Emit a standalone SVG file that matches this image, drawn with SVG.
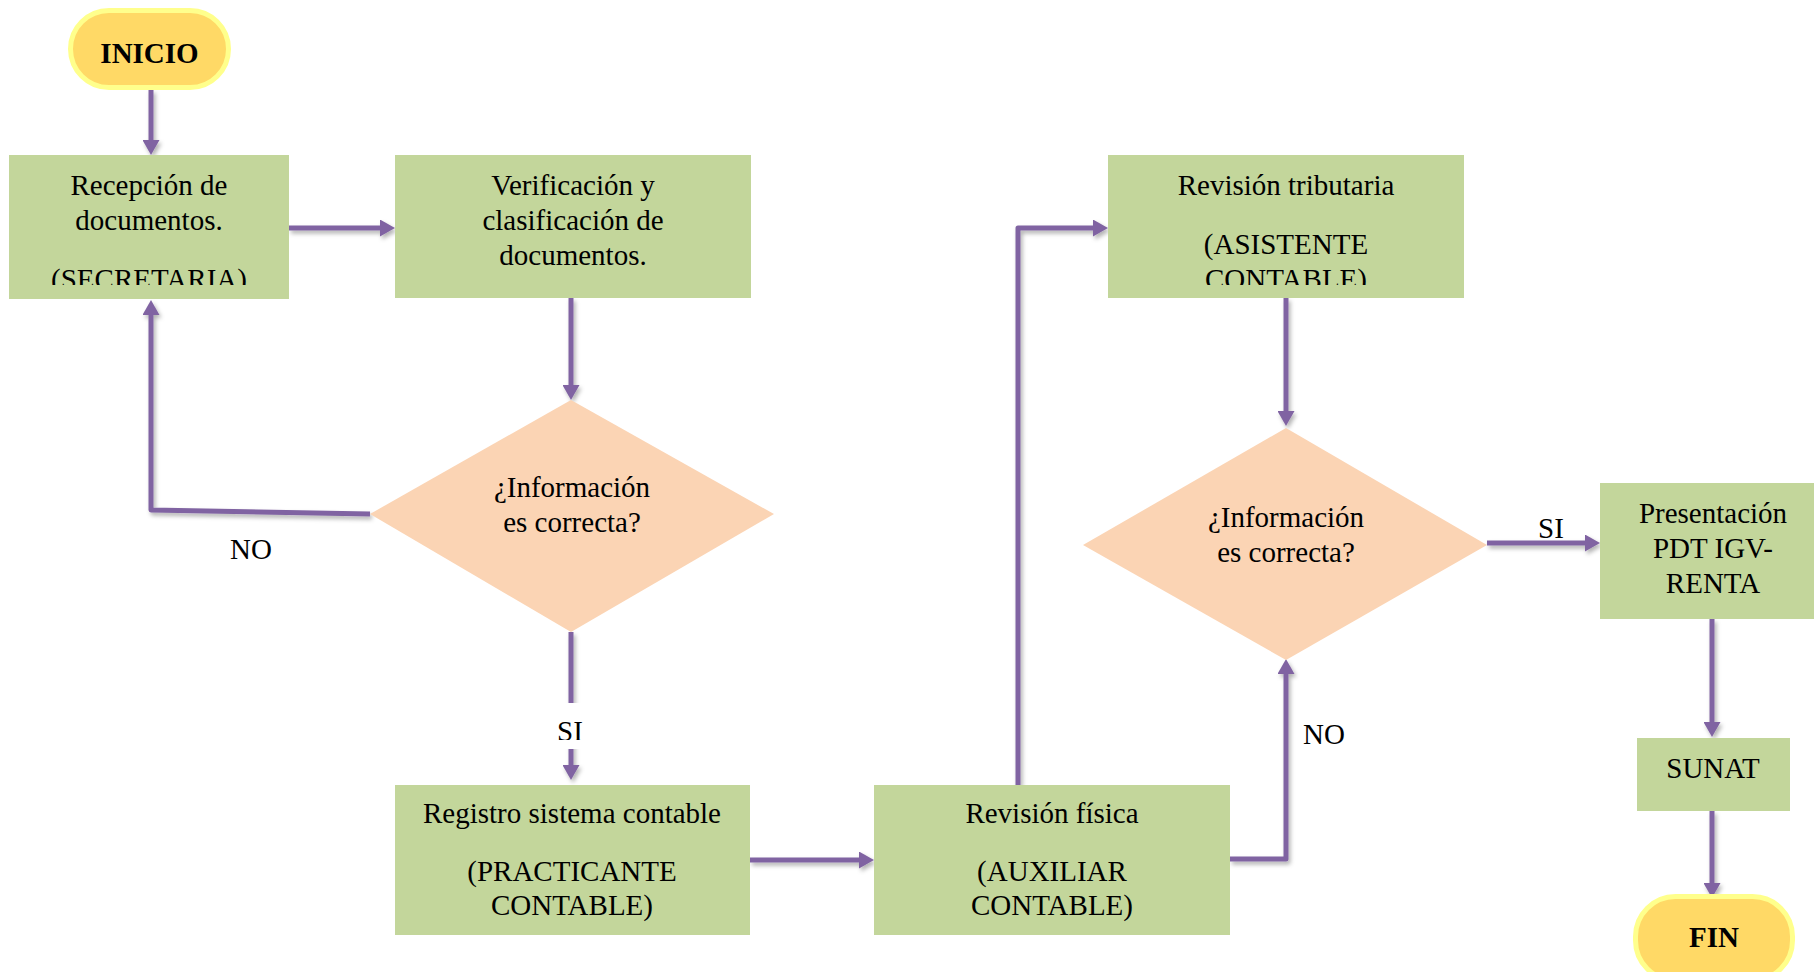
<svg xmlns="http://www.w3.org/2000/svg" width="1814" height="972" viewBox="0 0 1814 972">
<style>
.box{fill:#C3D69B}
.dia{fill:#FBD4B4}
.pill{fill:#FFD966;stroke:#FFFF8C;stroke-width:5}
.t{font-family:"Liberation Serif","Times New Roman",serif;font-size:29px;fill:#000;text-anchor:middle}
.b{font-weight:bold}
.c{fill:none;stroke:#8064A2;stroke-width:5;stroke-linejoin:round;marker-end:url(#ah)}
</style>
<defs>
<marker id="ah" markerUnits="userSpaceOnUse" markerWidth="15" markerHeight="17" refX="5" refY="8.5" orient="auto">
<path d="M0,0 L15,8.5 L0,17 z" fill="#8064A2"/>
</marker>
<filter id="sh" x="-20%" y="-20%" width="140%" height="140%">
<feDropShadow dx="2" dy="3" stdDeviation="2" flood-color="#000" flood-opacity="0.3"/>
</filter>
<clipPath id="clipRec"><rect x="9" y="155" width="280" height="130"/></clipPath>
<clipPath id="clipTri"><rect x="1108" y="155" width="356" height="130"/></clipPath>
<clipPath id="clipSi"><rect x="540" y="703" width="60" height="37"/></clipPath>
</defs>

<g id="connectors" filter="url(#sh)">
<path class="c" d="M151,90 V145"/>
<path class="c" d="M289,228 H385"/>
<path class="c" d="M571,298 V390"/>
<path class="c" d="M370,514 L151,510 V310"/>
<path class="c" d="M571,632 V770"/>
<path class="c" d="M750,860 H864"/>
<path class="c" d="M1018,785 V228 H1098"/>
<path class="c" d="M1286,298 V416"/>
<path class="c" d="M1230,859 H1286 V669"/>
<path class="c" d="M1487,543 H1590"/>
<path class="c" d="M1712,619 V727"/>
<path class="c" d="M1712,811 V888"/>
</g>

<g id="labels">
<rect x="545" y="703" width="52" height="46" fill="#fff"/>
<text class="t" x="570" y="741" clip-path="url(#clipSi)">SI</text>
<text class="t" x="251" y="559">NO</text>
<text class="t" x="1324" y="744">NO</text>
<text class="t" x="1551" y="538">SI</text>
</g>

<g id="inicio">
<rect class="pill" x="70.5" y="10.5" width="158" height="77" rx="38.5"/>
<text class="t b" x="149.5" y="63">INICIO</text>
</g>

<g id="recepcion">
<rect class="box" x="9" y="155" width="280" height="144"/>
<g clip-path="url(#clipRec)">
<text class="t" x="149" y="195">Recepción de</text>
<text class="t" x="149" y="230">documentos.</text>
<text class="t" x="149" y="289">(SECRETARIA)</text>
</g>
</g>

<g id="verificacion">
<rect class="box" x="395" y="155" width="356" height="143"/>
<text class="t" x="573" y="195">Verificación y</text>
<text class="t" x="573" y="230">clasificación de</text>
<text class="t" x="573" y="265">documentos.</text>
</g>

<g id="decision1">
<polygon class="dia" points="571,400 774,514 571,632 370,514"/>
<text class="t" x="572" y="497">¿Información</text>
<text class="t" x="572" y="532">es correcta?</text>
</g>

<g id="registro">
<rect class="box" x="395" y="785" width="355" height="150"/>
<text class="t" x="572" y="823">Registro sistema contable</text>
<text class="t" x="572" y="881">(PRACTICANTE</text>
<text class="t" x="572" y="915">CONTABLE)</text>
</g>

<g id="revision-fisica">
<rect class="box" x="874" y="785" width="356" height="150"/>
<text class="t" x="1052" y="823">Revisión física</text>
<text class="t" x="1052" y="881">(AUXILIAR</text>
<text class="t" x="1052" y="915">CONTABLE)</text>
</g>

<g id="revision-tributaria">
<rect class="box" x="1108" y="155" width="356" height="143"/>
<g clip-path="url(#clipTri)">
<text class="t" x="1286" y="195">Revisión tributaria</text>
<text class="t" x="1286" y="254">(ASISTENTE</text>
<text class="t" x="1286" y="289">CONTABLE)</text>
</g>
</g>

<g id="decision2">
<polygon class="dia" points="1286,428 1487,545 1286,660 1083,545"/>
<text class="t" x="1286" y="527">¿Información</text>
<text class="t" x="1286" y="562">es correcta?</text>
</g>

<g id="presentacion">
<rect class="box" x="1600" y="483" width="214" height="136"/>
<text class="t" x="1713" y="523">Presentación</text>
<text class="t" x="1713" y="558">PDT IGV-</text>
<text class="t" x="1713" y="593">RENTA</text>
</g>

<g id="sunat">
<rect class="box" x="1637" y="738" width="153" height="73"/>
<text class="t" x="1713" y="778">SUNAT</text>
</g>

<g id="fin">
<rect class="pill" x="1635.5" y="896.5" width="157" height="84" rx="40"/>
<text class="t b" x="1714" y="947">FIN</text>
</g>
</svg>
